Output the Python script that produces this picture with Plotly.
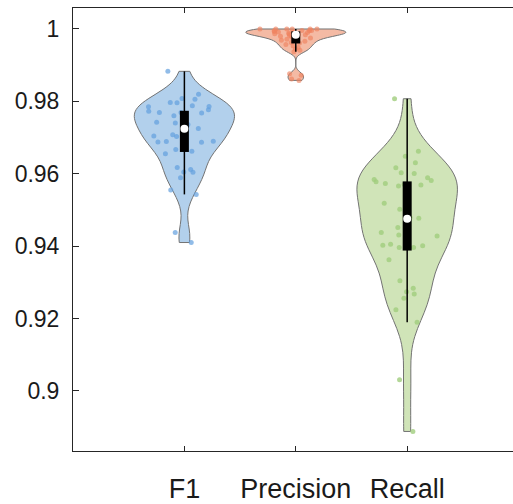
import numpy as np
import plotly.graph_objects as go

categories = ["F1", "Precision", "Recall"]
positions = [1, 2, 3]

f1_values = [0.9883, 0.9820, 0.9808, 0.9806, 0.9797, 0.9796, 0.9788, 0.9786, 0.9785, 0.9777,
             0.9773, 0.9769, 0.9769, 0.9768, 0.9760, 0.9750, 0.9742, 0.9740, 0.9736, 0.9725,
             0.9724, 0.9708, 0.9704, 0.9703, 0.9690, 0.9689, 0.9688, 0.9687, 0.9667, 0.9662,
             0.9655, 0.9617, 0.9612, 0.9605, 0.9604, 0.9589, 0.9555, 0.9543, 0.9438, 0.9410]

precision_values = [1.0000, 1.0000, 1.0000, 1.0000, 1.0000, 1.0000, 0.9996, 0.9996, 0.9995, 0.9995,
                    0.9993, 0.9992, 0.9991, 0.9990, 0.9989, 0.9988, 0.9987, 0.9986, 0.9985, 0.9984,
                    0.9984, 0.9982, 0.9980, 0.9978, 0.9975, 0.9972, 0.9969, 0.9966, 0.9963, 0.9961,
                    0.9957, 0.9953, 0.9949, 0.9945, 0.9941, 0.9937, 0.9876, 0.9872, 0.9862, 0.9858]

recall_values = [0.98073, 0.96623, 0.96485, 0.96303, 0.96166, 0.96028, 0.96009, 0.95890, 0.95844, 0.95816,
                 0.95780, 0.95734, 0.95706, 0.95687, 0.95659, 0.95202, 0.95183, 0.95018, 0.94789, 0.94770,
                 0.94740, 0.94514, 0.94377, 0.94311, 0.94283, 0.94054, 0.94027, 0.94008, 0.93964, 0.93964,
                 0.93622, 0.93044, 0.92835, 0.92742, 0.92678, 0.92560, 0.92246, 0.91899, 0.90311, 0.88880]

series = [f1_values, precision_values, recall_values]

fill_colors = ["rgb(178,208,236)", "rgb(244,186,164)", "rgb(208,228,184)"]
point_colors = ["rgba(98,160,222,0.7)", "rgba(240,130,96,0.65)", "rgba(160,205,125,0.8)"]
bandwidths = [0.0038, 0.0009, 0.0066]

y_ticks = [0.9, 0.92, 0.94, 0.96, 0.98, 1.0]
y_tick_labels = ["0.9", "0.92", "0.94", "0.96", "0.98", "1"]

fig = go.Figure()

for name, pos, vals, fc, pc, bw in zip(categories, positions, series, fill_colors, point_colors, bandwidths):
    fig.add_trace(go.Violin(
        y=vals, x0=pos, name=name,
        width=0.9, scalemode="width", spanmode="hard", bandwidth=bw,
        fillcolor=fc, opacity=1,
        line=dict(color="rgb(115,115,115)", width=1),
        points="all", pointpos=0, jitter=0.85,
        marker=dict(color=pc, size=5, line=dict(width=0)),
        box_visible=False, meanline_visible=False,
        showlegend=False, hoverinfo="skip",
    ))

for pos, vals in zip(positions, series):
    a = np.array(vals)
    q1, med, q3 = np.percentile(a, [25, 50, 75])
    iqr = q3 - q1
    lo = a[a >= q1 - 1.5 * iqr].min()
    hi = a[a <= q3 + 1.5 * iqr].max()
    fig.add_trace(go.Scatter(x=[pos, pos], y=[lo, hi], mode="lines",
                             line=dict(color="black", width=1.5),
                             showlegend=False, hoverinfo="skip"))
    fig.add_trace(go.Scatter(x=[pos, pos], y=[q1, q3], mode="lines",
                             line=dict(color="black", width=9),
                             showlegend=False, hoverinfo="skip"))
    fig.add_trace(go.Scatter(x=[pos], y=[med], mode="markers",
                             marker=dict(color="white", size=8, line=dict(width=0)),
                             showlegend=False, hoverinfo="skip"))

fig.update_layout(
    width=513, height=504,
    margin=dict(l=73, r=0, t=8, b=51),
    paper_bgcolor="white", plot_bgcolor="white",
    font=dict(family="Liberation Sans, Arial", color="#1a1a1a"),
    violinmode="overlay",
)
fig.update_xaxes(
    range=[0, 3.95], tickvals=positions, ticktext=categories,
    showgrid=False, zeroline=False,
    showline=True, linecolor="#262626", linewidth=1, mirror="ticks",
    ticks="inside", ticklen=5, tickcolor="#262626",
    tickfont=dict(size=27), ticklabelstandoff=14,
)
fig.update_yaxes(
    range=[0.8834, 1.0058], tickvals=y_ticks, ticktext=y_tick_labels,
    showgrid=False, zeroline=False,
    showline=True, linecolor="#262626", linewidth=1, mirror=False,
    ticks="inside", ticklen=6, tickcolor="#262626",
    tickfont=dict(size=23), ticklabelstandoff=8,
)

fig.write_html("out.html", config={"displayModeBar": False},
               post_script="document.body.style.margin='0px';document.body.style.overflow='hidden';")
